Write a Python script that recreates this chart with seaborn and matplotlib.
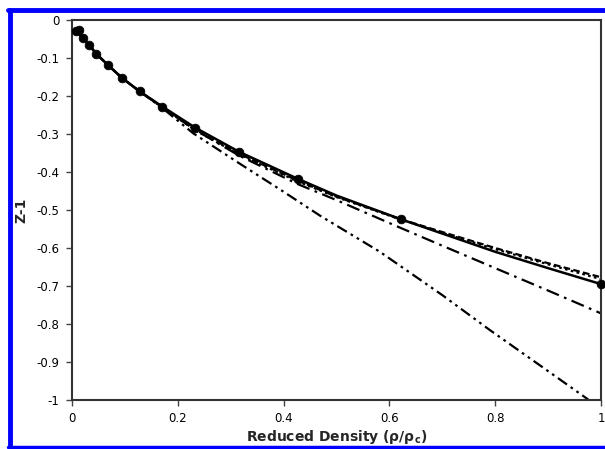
import matplotlib
matplotlib.use("Agg")
import matplotlib.pyplot as plt
import seaborn as sns
from matplotlib.lines import Line2D

# ---- data ----
points_x = [0.008, 0.013, 0.020, 0.033, 0.046, 0.0675, 0.095, 0.128, 0.171, 0.2325, 0.316, 0.427, 0.621, 1.0]
points_y = [-0.028, -0.027, -0.047, -0.067, -0.089, -0.118, -0.153, -0.188, -0.228, -0.283, -0.347, -0.418, -0.524, -0.695]

curve_x = [0.008, 0.020, 0.033, 0.046, 0.0675, 0.095, 0.128, 0.171, 0.2325, 0.316, 0.427, 0.5, 0.621, 0.7, 0.8, 0.9, 1.0]
solid_y = [-0.028, -0.047, -0.067, -0.089, -0.118, -0.153, -0.188, -0.228, -0.283, -0.347, -0.418, -0.462, -0.524, -0.562, -0.610, -0.653, -0.695]
dashed_y = [-0.028, -0.047, -0.067, -0.089, -0.118, -0.153, -0.188, -0.229, -0.288, -0.352, -0.423, -0.465, -0.524, -0.558, -0.600, -0.640, -0.677]
dotted_y = [-0.028, -0.047, -0.067, -0.089, -0.118, -0.153, -0.188, -0.230, -0.290, -0.354, -0.425, -0.466, -0.525, -0.560, -0.603, -0.643, -0.682]
dashdot_y = [-0.028, -0.047, -0.067, -0.089, -0.118, -0.153, -0.188, -0.230, -0.289, -0.357, -0.432, -0.474, -0.547, -0.594, -0.653, -0.712, -0.772]

dd_x = [0.008, 0.020, 0.033, 0.046, 0.0675, 0.095, 0.128, 0.171, 0.229, 0.316, 0.4, 0.469, 0.582, 0.7, 0.79, 0.9, 0.973, 1.0]
dashdotdot_y = [-0.028, -0.047, -0.067, -0.089, -0.118, -0.153, -0.188, -0.232, -0.298, -0.377, -0.452, -0.515, -0.610, -0.724, -0.816, -0.924, -0.996, -1.025]

x_ticks = [0, 0.2, 0.4, 0.6, 0.8, 1.0]
x_tick_labels = ["0", "0.2", "0.4", "0.6", "0.8", "1"]
y_ticks = [0, -0.1, -0.2, -0.3, -0.4, -0.5, -0.6, -0.7, -0.8, -0.9, -1.0]
y_tick_labels = ["0", "-0.1", "-0.2", "-0.3", "-0.4", "-0.5", "-0.6", "-0.7", "-0.8", "-0.9", "-1"]

# ---- plot ----
sns.set_style("white")
plt.rcParams["font.family"] = ["DejaVu Sans"]

fig = plt.figure(figsize=(6.05, 4.49), dpi=100)
ax = fig.add_axes([72/605, 49/449, 529/605, 380/449])

lw = 1.6
sns.lineplot(x=dd_x, y=dashdotdot_y, ax=ax, color="black", lw=lw, sort=False)
ax.lines[-1].set_dashes([5, 2, 1.2, 2, 1.2, 2])
sns.lineplot(x=curve_x, y=dashdot_y, ax=ax, color="black", lw=lw, sort=False)
ax.lines[-1].set_dashes([6, 2.5, 1.2, 2.5])
sns.lineplot(x=curve_x, y=dotted_y, ax=ax, color="black", lw=lw, sort=False)
ax.lines[-1].set_dashes([1.2, 1.5])
sns.lineplot(x=curve_x, y=dashed_y, ax=ax, color="black", lw=lw, sort=False)
ax.lines[-1].set_dashes([3, 1.5])
sns.lineplot(x=curve_x, y=solid_y, ax=ax, color="black", lw=1.8, sort=False)
sns.scatterplot(x=points_x, y=points_y, ax=ax, color="black", s=40,
                edgecolor="black", zorder=5, clip_on=False)

ax.set_xlim(0, 1)
ax.set_ylim(-1, 0)
ax.set_xticks(x_ticks)
ax.set_xticklabels(x_tick_labels)
ax.set_yticks(y_ticks)
ax.set_yticklabels(y_tick_labels)
ax.tick_params(axis="both", direction="out", length=4, width=1, color="#444444",
               labelsize=8.5, pad=5, bottom=True, left=True, labelcolor="black")
for s in ax.spines.values():
    s.set_visible(True)
    s.set_color("#333333")
    s.set_linewidth(1.5)

ax.set_xlabel(r"Reduced Density (ρ/ρ$_\mathbf{c}$)", fontsize=10, fontweight="bold", labelpad=2)
ax.set_ylabel("Z-1", fontsize=10, fontweight="bold", labelpad=6)

# blue frame on left, top and bottom
blue = "#0000ff"
fig.add_artist(Line2D([10/605, 10/605], [2/449, 439/449], transform=fig.transFigure, color=blue, lw=3.5))
fig.add_artist(Line2D([8/605, 1.0], [439/449, 439/449], transform=fig.transFigure, color=blue, lw=3.5))
fig.add_artist(Line2D([8/605, 1.0], [2.5/449, 2.5/449], transform=fig.transFigure, color=blue, lw=2.5))

fig.savefig("out.png", dpi=100)
